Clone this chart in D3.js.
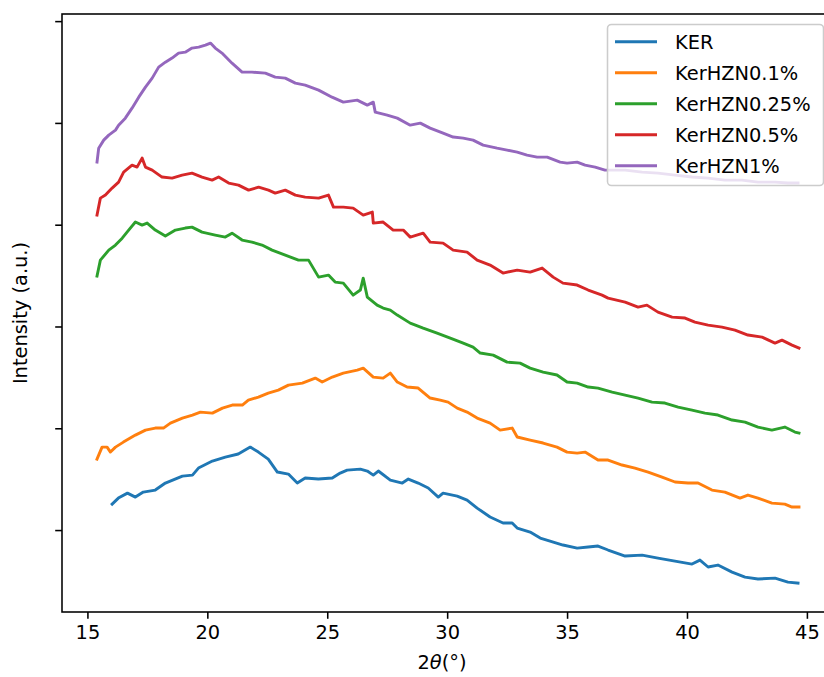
<!DOCTYPE html>
<html>
<head>
<meta charset="utf-8">
<script src="https://cdn.jsdelivr.net/npm/d3@7"></script>
<style>
body { margin: 0; background: #fff; }
svg { font-family: "DejaVu Sans", sans-serif; }
</style>
</head>
<body>
<div id="chart"></div>
<script>

// XRD patterns, 2theta (deg) vs intensity (a.u., curves stacked)
const seriesNames = ["KER", "KerHZN0.1%", "KerHZN0.25%", "KerHZN0.5%", "KerHZN1%"];

const ker = [[16.03,25.5],[16.29,31.4],[16.67,36.3],[17.0,32.4],[17.33,37.3],[17.83,39.3],[18.25,46.2],[18.96,53.0],
  [19.38,54.0],[19.63,60.9],[20.21,67.8],[20.75,71.7],[21.29,74.7],[21.79,81.5],[22.13,76.6],[22.54,69.7],[22.92,57.0],
  [23.38,55.0],[23.75,46.2],[24.08,51.1],[24.63,50.1],[25.21,51.1],[25.54,56.0],[25.83,58.9],[26.38,59.9],[26.67,58.0],
  [26.92,54.0],[27.13,58.0],[27.63,49.1],[28.13,46.2],[28.38,50.1],[28.79,46.2],[29.21,41.3],[29.63,32.4],[29.83,36.3],
  [30.42,33.4],[30.83,29.5],[31.25,21.6],[31.79,12.8],[32.33,6.9],[32.71,6.9],[32.92,2.0],[33.46,-2.0],[33.88,-7.9],
  [34.29,-10.8],[34.83,-14.7],[35.42,-17.7],[35.88,-16.7],[36.29,-15.7],[36.71,-19.6],[37.42,-25.5],[38.13,-24.6],
  [38.79,-27.5],[39.5,-30.5],[40.21,-33.4],[40.54,-29.5],[40.88,-36.3],[41.29,-34.4],[41.88,-41.3],[42.42,-46.2],
  [42.96,-48.1],[43.67,-47.2],[44.21,-51.1],[44.63,-52.1]];

const hzn01 = [[15.40,69.7],[15.61,81.5],[15.82,81.5],[15.96,76.6],[16.17,81.5],[16.5,86.4],[17.0,93.3],[17.42,98.2],
  [17.83,100.2],[18.17,100.2],[18.46,105.1],[18.96,110.0],[19.38,113.0],[19.71,115.9],[20.21,114.9],[20.63,119.8],
  [21.04,122.8],[21.46,122.8],[21.71,127.7],[22.13,130.6],[22.54,134.6],[22.96,137.5],[23.38,142.4],[23.96,144.4],
  [24.5,149.3],[24.79,145.4],[25.21,150.3],[25.67,154.2],[26.25,157.2],[26.5,159.1],[26.92,150.3],[27.33,149.3],
  [27.63,154.2],[27.92,145.4],[28.33,140.5],[28.79,139.5],[29.29,129.7],[29.71,127.7],[30.04,125.7],[30.42,119.8],
  [30.83,115.9],[31.25,110.0],[31.79,105.1],[32.21,98.2],[32.71,100.2],[32.92,91.4],[33.46,88.4],[34.0,85.5],
  [34.58,81.5],[35.0,76.6],[35.42,75.6],[35.75,76.6],[36.29,68.8],[36.71,68.8],[37.29,63.9],[37.83,60.9],[38.38,57.0],
  [38.96,52.1],[39.5,47.2],[40.04,46.2],[40.46,46.2],[41.04,39.3],[41.58,37.3],[42.21,31.4],[42.54,34.4],[42.96,31.4],
  [43.54,26.5],[44.08,25.5],[44.38,22.6],[44.67,22.6]];

const hzn025 = [[15.40,249.5],[15.54,265.2],[15.89,275.0],[16.17,280.0],[16.45,286.8],[16.72,294.7],[17.0,302.6],
  [17.28,299.6],[17.49,301.6],[17.83,294.7],[18.25,288.8],[18.67,294.7],[19.08,296.7],[19.36,297.6],[19.78,292.7],
  [20.33,289.8],[20.75,287.8],[21.03,291.7],[21.45,284.9],[21.86,282.9],[22.28,280.0],[22.70,275.0],[23.25,270.1],
  [23.80,265.2],[24.22,265.2],[24.64,248.5],[25.05,250.5],[25.33,243.6],[25.67,242.6],[26.08,230.8],[26.38,235.8],
  [26.5,247.5],[26.67,228.9],[27.08,221.0],[27.33,218.1],[27.63,216.1],[27.92,211.2],[28.46,203.3],[29.0,198.4],
  [29.58,193.5],[30.13,188.6],[30.67,183.7],[31.08,179.8],[31.38,173.9],[31.92,171.9],[32.5,165.0],[33.04,164.0],
  [33.46,159.1],[34.0,155.2],[34.58,152.3],[35.0,145.4],[35.42,144.4],[35.88,140.5],[36.29,139.5],[36.88,135.6],
  [37.42,132.6],[37.96,129.7],[38.54,125.7],[39.08,124.8],[39.63,120.8],[40.21,117.9],[40.75,114.9],[41.29,113.0],
  [41.88,108.1],[42.42,106.1],[42.96,101.2],[43.54,98.2],[44.08,101.2],[44.5,96.3],[44.67,95.3]];

const hzn05 = [[15.40,309.4],[15.54,326.1],[15.75,329.1],[16.03,336.0],[16.30,341.8],[16.51,351.7],[16.86,358.5],
  [17.07,356.6],[17.28,365.4],[17.42,356.6],[17.70,353.6],[18.11,346.8],[18.53,345.8],[18.95,348.7],[19.36,350.7],
  [19.78,346.8],[20.20,343.8],[20.47,346.8],[20.89,340.9],[21.30,338.9],[21.72,334.0],[22.14,336.9],[22.55,334.0],
  [22.83,331.0],[23.25,334.0],[23.67,329.1],[24.08,327.1],[24.64,326.1],[25.05,329.1],[25.26,317.3],[25.67,317.3],
  [26.08,316.3],[26.5,309.4],[26.88,312.4],[26.92,301.6],[27.33,302.6],[27.75,294.7],[28.17,294.7],[28.46,287.8],
  [29.0,291.7],[29.29,282.9],[29.83,281.9],[30.25,275.0],[30.83,273.1],[31.25,265.2],[31.79,260.3],[32.33,252.5],
  [32.92,255.4],[33.46,253.4],[33.96,257.4],[34.42,248.5],[34.83,242.6],[35.42,240.7],[35.88,235.8],[36.46,230.8],
  [36.71,227.9],[37.42,224.0],[37.96,219.1],[38.33,221.0],[38.79,214.1],[39.38,209.2],[39.92,208.3],[40.33,204.3],
  [40.88,201.4],[41.46,199.4],[42.0,196.5],[42.54,191.6],[43.13,189.6],[43.67,183.7],[43.96,186.6],[44.38,181.7],
  [44.67,178.8]];

const hzn1 = [[15.40,361.5],[15.47,375.2],[15.68,383.1],[15.89,388.0],[16.17,392.9],[16.30,397.8],[16.58,404.7],
  [16.86,414.5],[17.14,425.3],[17.42,435.2],[17.70,444.0],[17.97,454.8],[18.25,459.7],[18.53,463.7],[18.80,468.6],
  [19.08,469.5],[19.36,473.5],[19.64,474.5],[19.92,476.4],[20.13,478.4],[20.33,473.5],[20.61,468.6],[21.03,458.7],
  [21.45,449.9],[21.86,449.9],[22.42,448.9],[22.83,445.0],[23.25,444.0],[23.67,439.1],[24.08,437.1],[24.64,432.2],
  [25.20,425.3],[25.67,420.4],[26.25,422.4],[26.67,417.5],[26.92,420.4],[27.0,410.6],[27.5,407.7],[27.92,404.7],
  [28.46,397.8],[28.88,399.8],[29.29,394.9],[29.83,390.0],[30.25,386.1],[30.67,385.1],[31.08,383.1],[31.5,378.2],
  [32.08,375.2],[32.5,373.3],[32.92,371.3],[33.33,368.4],[33.75,366.4],[34.17,366.4],[34.71,361.5],[35.0,360.5],
  [35.42,361.5],[35.75,358.5],[36.17,356.6],[36.58,353.6],[37.42,353.6],[38.13,351.7],[38.79,350.7],[39.5,348.7],
  [40.21,346.8],[40.88,345.8],[41.58,343.8],[42.29,343.8],[42.96,341.8],[43.67,341.8],[44.21,340.9],[44.63,340.9]];

const allSeries = [ker, hzn01, hzn025, hzn05, hzn1];
const xTicks = [15, 20, 25, 30, 35, 40, 45];
const yTicks = [0, 100, 200, 300, 400, 500];

const colors = ["#1f77b4", "#ff7f0e", "#2ca02c", "#d62728", "#9467bd"];

const width = 824;
const height = 677;
const margin = {top: 14, left: 62, right: -10, bottom: 65};
const fontSize = 19.4;

const svg = d3.select("#chart")
    .append("svg")
    .attr("width", width)
    .attr("height", height);

const xScale = d3.scaleLinear()
    .domain([13.94, 46.13])
    .range([margin.left, width - margin.right]);

const yScale = d3.scaleLinear()
    .domain([-80.5, 507])
    .range([height - margin.bottom, margin.top]);

const xAxis = svg.append("g")
    .attr("transform", `translate(0,${height - margin.bottom})`)
    .call(d3.axisBottom(xScale).tickValues(xTicks).tickSize(6.8).tickPadding(6.5));

const yAxis = svg.append("g")
    .attr("transform", `translate(${margin.left},0)`)
    .call(d3.axisLeft(yScale).tickValues(yTicks).tickFormat("").tickSize(6.8));

[xAxis, yAxis].forEach(function(a) {
    a.select(".domain").remove();
    a.selectAll(".tick line").attr("stroke", "#000").attr("stroke-width", 1.56);
    a.selectAll(".tick text")
        .attr("fill", "#000")
        .style("font-family", "DejaVu Sans")
        .style("font-size", fontSize + "px");
});

const line = d3.line()
    .x(function(d) { return xScale(d[0]); })
    .y(function(d) { return yScale(d[1]); });

svg.append("g")
    .selectAll("path")
    .data(allSeries)
    .enter()
    .append("path")
        .attr("d", line)
        .attr("fill", "none")
        .attr("stroke", function(d, i) { return colors[i]; })
        .attr("stroke-width", 2.9)
        .attr("stroke-linejoin", "round")
        .attr("stroke-linecap", "square");

// frame (right spine falls outside the cropped figure)
svg.append("rect")
    .attr("x", margin.left)
    .attr("y", margin.top)
    .attr("width", width - margin.right - margin.left)
    .attr("height", height - margin.bottom - margin.top)
    .attr("fill", "none")
    .attr("stroke", "#000")
    .attr("stroke-width", 1.56);

// legend
const legend = svg.append("g");

legend.append("rect")
    .attr("x", 607.5)
    .attr("y", 24.5)
    .attr("width", 216)
    .attr("height", 161)
    .attr("rx", 4)
    .attr("fill", "#fff")
    .attr("fill-opacity", 0.8)
    .attr("stroke", "#cccccc")
    .attr("stroke-width", 1.56);

const entries = legend.selectAll(".entry")
    .data(seriesNames)
    .enter()
    .append("g")
    .attr("transform", function(d, i) { return `translate(0,${41.7 + i * 31})`; });

entries.append("line")
    .attr("x1", 615)
    .attr("x2", 657)
    .attr("stroke", function(d, i) { return colors[i]; })
    .attr("stroke-width", 2.9);

entries.append("text")
    .attr("x", 675)
    .attr("dy", "0.36em")
    .style("font-size", fontSize + "px")
    .attr("fill", "#000")
    .text(function(d) { return d; });

const xAxisLabel = svg.append("text")
    .attr("x", 442)
    .attr("y", 669)
    .attr("text-anchor", "middle")
    .style("font-size", fontSize + "px");
xAxisLabel.append("tspan").text("2");
xAxisLabel.append("tspan").style("font-style", "italic").text("θ");
xAxisLabel.append("tspan").text("(°)");

const yAxisLabel = svg.append("text")
    .attr("transform", "translate(27,313) rotate(-90)")
    .attr("text-anchor", "middle")
    .style("font-size", fontSize + "px")
    .text("Intensity (a.u.)");

</script>
</body>
</html>
